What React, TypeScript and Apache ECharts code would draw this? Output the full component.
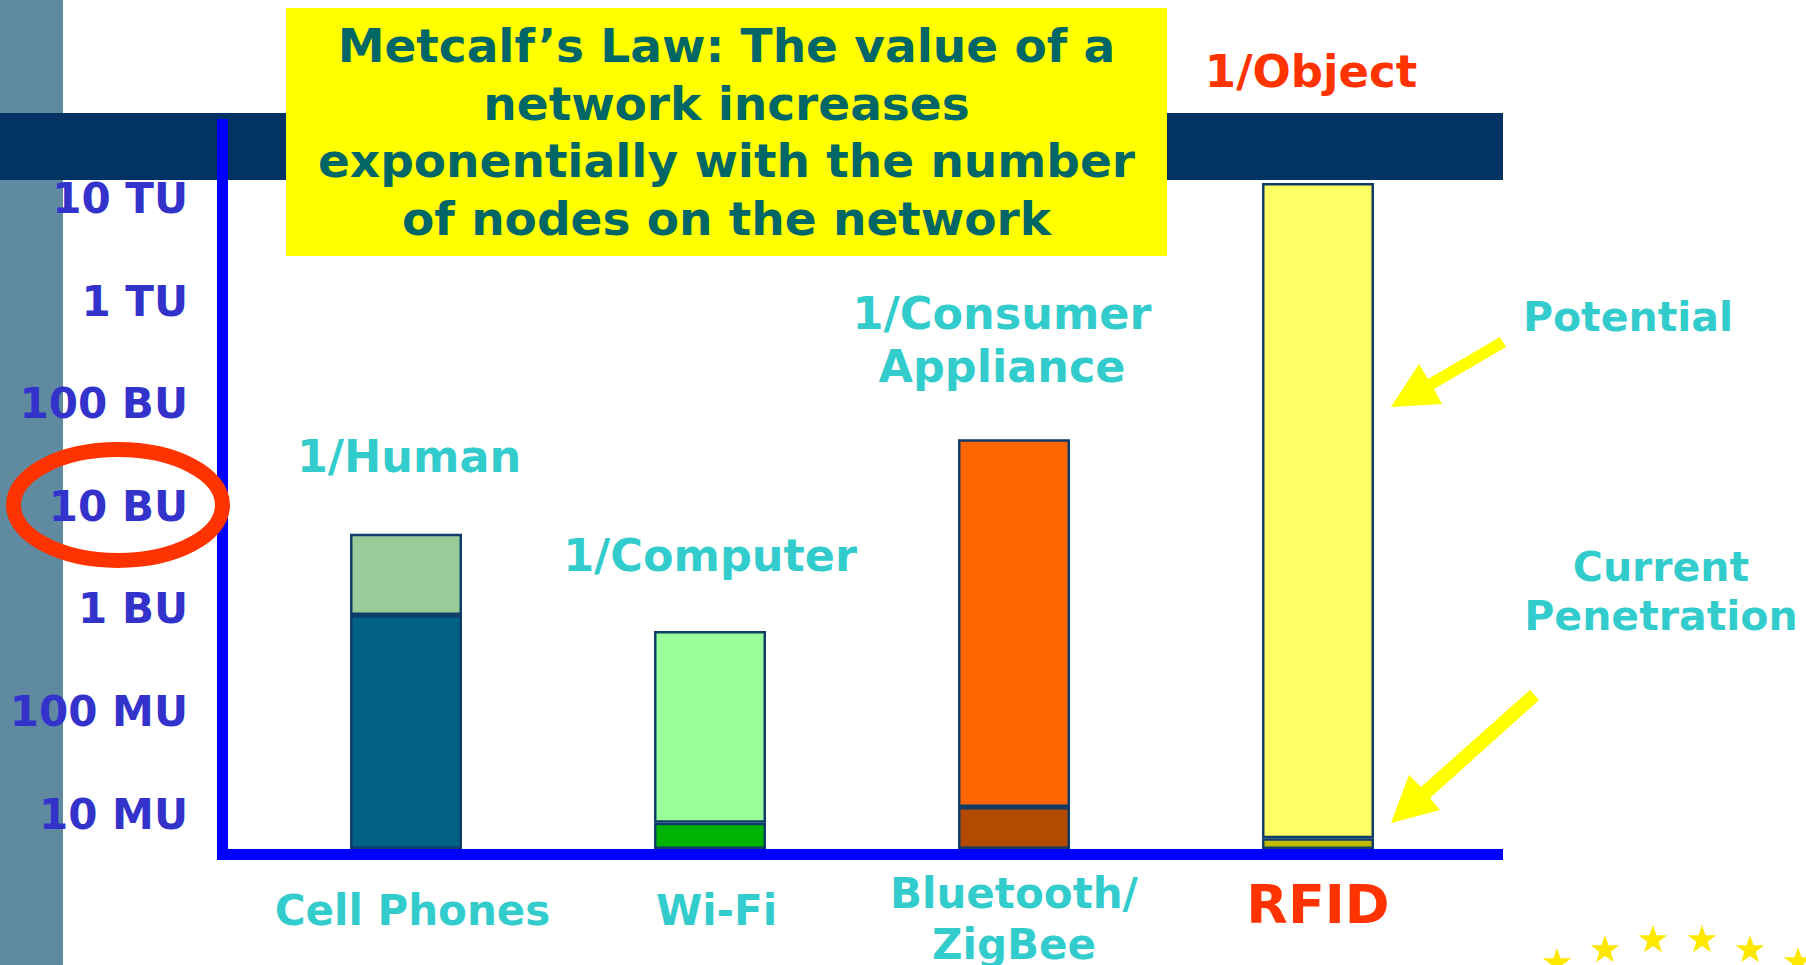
import React, { useEffect, useRef } from 'react';
import * as echarts from 'echarts';

// ---- data (units) ----
const categories = ['Cell Phones', 'Wi-Fi', 'Bluetooth/\nZigBee', 'RFID'];
const currentUnits = [8.7e8, 8.2e6, 1.17e7, 5.8e6];
const potentialUnits = [5.4e9, 6.1e8, 4.5e10, 1.42e13];
const nodeLabels = ['1/Human', '1/Computer', '1/Consumer\nAppliance', '1/Object'];
const tickExponents = [7, 8, 9, 10, 11, 12, 13];
const tickLabels = ['10 MU', '100 MU', '1 BU', '10 BU', '100 BU', '1 TU', '10 TU'];
const titleLines = [
  'Metcalf’s Law: The value of a',
  'network increases',
  'exponentially with the number',
  'of nodes on the network',
];
const potentialText = 'Potential';
const currentText = 'Current\nPenetration';

// ---- styles ----
const FONT = '"DejaVu Sans", Verdana, sans-serif';
const currentColors = ['#006185', '#00b300', '#b34a00', '#c0bb00'];
const potentialColors = ['#99cc99', '#99ff99', '#ff6600', '#ffff66'];
const labelLayouts = [
  { distance: 52, dx: 3, color: '#33cccc', size: 44.5 },
  { distance: 50, dx: 0, color: '#33cccc', size: 44.5 },
  { distance: 46.5, dx: -12, color: '#33cccc', size: 44.5 },
  { distance: 87, dx: -7, color: '#ff3300', size: 45 },
];
const AXIS_MIN_EXP = 6.659;
const AXIS_MAX_EXP = 13.777;

function starPoints(cx: number, cy: number, R: number, r: number) {
  const pts: number[][] = [];
  for (let k = 0; k < 10; k++) {
    const ang = -Math.PI / 2 + (k * Math.PI) / 5;
    const rad = k % 2 === 0 ? R : r;
    pts.push([cx + rad * Math.cos(ang), cy + rad * Math.sin(ang)]);
  }
  return pts;
}
const starCenters = [
  [1557, 963], [1605, 950], [1653, 940], [1702, 940], [1750, 950], [1798, 962],
];

export default function App() {
  const ref = useRef<HTMLDivElement>(null);
  useEffect(() => {
    document.body.style.margin = '0';
    if (!ref.current) return;
    const chart = echarts.init(ref.current, undefined, { renderer: 'svg' });
    const curExp = currentUnits.map((v) => Math.log10(v));
    const potExp = potentialUnits.map((v) => Math.log10(v));

    const option: any = {
      animation: false,
      backgroundColor: '#ffffff',
      grid: { left: 254, right: 336, top: 119, bottom: 116, containLabel: false },
      xAxis: {
        type: 'category',
        data: categories,
        axisLine: { show: false },
        axisTick: { show: false },
        axisLabel: {
          margin: 18.5,
          interval: 0,
          formatter: (value: string, idx: number) => {
            if (idx === 3) return `{r|${value}}`;
            if (value.includes('\n')) return value.split('\n').map((s) => `{b|${s}}`).join('\n');
            return `{a|${value}}`;
          },
          rich: {
            a: { fontFamily: FONT, fontWeight: 'bold', fontSize: 42, lineHeight: 85, color: '#33cccc', padding: [0, 0, 0, 13] },
            b: { fontFamily: FONT, fontWeight: 'bold', fontSize: 42, lineHeight: 51, color: '#33cccc' },
            r: { fontFamily: FONT, fontWeight: 'bold', fontSize: 54, lineHeight: 73, color: '#ff3300' },
          },
        },
      },
      yAxis: {
        type: 'value',
        min: AXIS_MIN_EXP,
        max: AXIS_MAX_EXP,
        startValue: AXIS_MIN_EXP,
        splitLine: { show: false },
        axisLine: { show: false },
        axisTick: { show: false },
        axisLabel: {
          customValues: tickExponents,
          margin: 66,
          fontFamily: FONT,
          fontWeight: 'bold',
          fontSize: 42,
          color: '#3333cc',
          formatter: (v: number) => {
            const i = tickExponents.indexOf(Math.round(v));
            return i >= 0 ? tickLabels[i] : '';
          },
        },
      },
      series: [
        {
          name: 'Current Penetration',
          type: 'bar',
          stack: 'units',
          barWidth: 112,
          itemStyle: { borderColor: '#0f3c68', borderWidth: 2.5 },
          data: curExp.map((v, i) => ({ value: v, itemStyle: { color: currentColors[i] } })),
        },
        {
          name: 'Potential',
          type: 'bar',
          stack: 'units',
          barWidth: 112,
          itemStyle: { borderColor: '#0f3c68', borderWidth: 2.5 },
          data: potExp.map((v, i) => ({
            value: v - curExp[i],
            itemStyle: { color: potentialColors[i] },
            label: {
              show: true,
              position: 'top',
              formatter: nodeLabels[i],
              distance: labelLayouts[i].distance,
              offset: [labelLayouts[i].dx, 0],
              color: labelLayouts[i].color,
              fontFamily: FONT,
              fontWeight: 'bold',
              fontSize: labelLayouts[i].size,
              lineHeight: i === 2 ? 53 : 50,
              align: 'center',
            },
          })),
        },
      ],
      graphic: [
        { type: 'rect', z: -10, shape: { x: 0, y: 0, width: 63, height: 965 }, style: { fill: '#5f8a9f' } },
        { type: 'rect', z: -9, shape: { x: 0, y: 113, width: 1503, height: 67 }, style: { fill: '#033363' } },
        { type: 'rect', z: 5, shape: { x: 217, y: 119, width: 11, height: 741 }, style: { fill: '#0000ff' } },
        { type: 'rect', z: 5, shape: { x: 217, y: 849, width: 1286, height: 11 }, style: { fill: '#0000ff' } },
        { type: 'rect', z: 6, shape: { x: 286, y: 8, width: 881, height: 248 }, style: { fill: '#ffff00' } },
        {
          type: 'text', z: 7,
          style: {
            text: titleLines.join('\n'), x: 726.5, y: 132, align: 'center', verticalAlign: 'middle',
            fontFamily: FONT, fontWeight: 'bold', fontSize: 47, lineHeight: 57.7, fill: '#006666',
          },
        },
        {
          type: 'ellipse', z: 6,
          shape: { cx: 118, cy: 505, rx: 104.5, ry: 55.5 },
          style: { fill: 'none', stroke: '#ff3300', lineWidth: 15 },
        },
        {
          type: 'text', z: 7,
          style: {
            text: potentialText, x: 1628, y: 317, align: 'center', verticalAlign: 'middle',
            fontFamily: FONT, fontWeight: 'bold', fontSize: 41, lineHeight: 49, fill: '#33cccc',
          },
        },
        {
          type: 'text', z: 7,
          style: {
            text: currentText, x: 1661, y: 591.5, align: 'center', verticalAlign: 'middle',
            fontFamily: FONT, fontWeight: 'bold', fontSize: 41, lineHeight: 49, fill: '#33cccc',
          },
        },
        {
          type: 'polygon', z: 7,
          shape: { points: [[1500, 337], [1506, 347], [1434, 389], [1442, 404], [1391, 407], [1419, 364], [1428, 379]] },
          style: { fill: '#ffff00' },
        },
        {
          type: 'polygon', z: 7,
          shape: { points: [[1530, 690], [1539, 700], [1430, 798], [1440, 810], [1391, 823], [1409, 775], [1421, 787]] },
          style: { fill: '#ffff00' },
        },
        ...starCenters.map((c) => ({
          type: 'polygon', z: 7,
          shape: { points: starPoints(c[0], c[1], 15, 6) },
          style: { fill: '#ffe800' },
        })),
      ],
    };
    chart.setOption(option);
    return () => chart.dispose();
  }, []);
  return <div ref={ref} style={{ width: 1806, height: 965 }} />;
}
